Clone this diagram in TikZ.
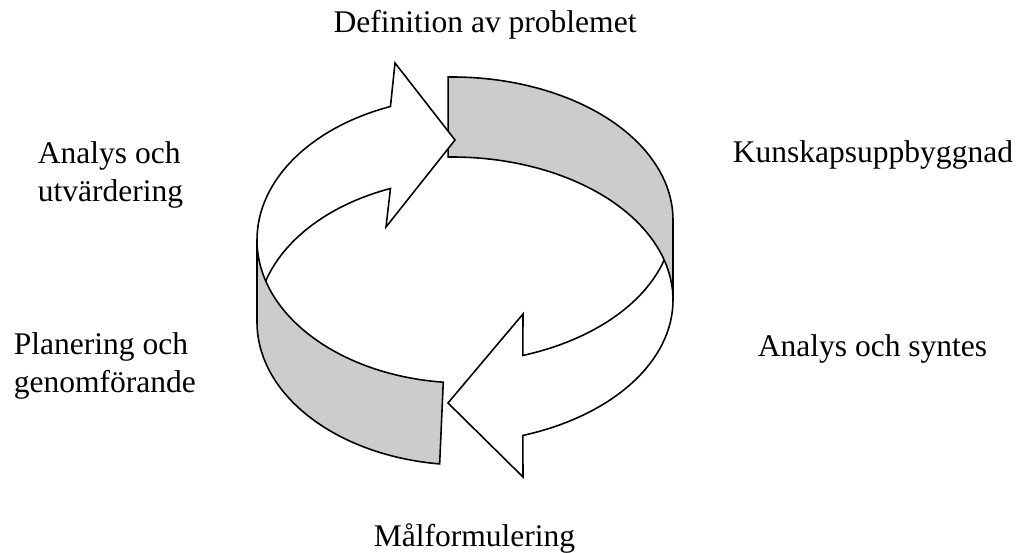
\documentclass[tikz,border=0pt]{standalone}
\usepackage{fontspec}
\setmainfont{Liberation Serif}
\usetikzlibrary{calc}
\definecolor{bandgrey}{RGB}{204,204,204}
\tikzset{
  every picture/.style={
    line width=0.7pt, line join=miter
  },
  band/.style={
    draw, fill=bandgrey
  },
  turn/.style={
    draw, fill=white
  },
  stage/.style={
    inner sep=0pt, align=left,
    font=\fontsize{14pt}{17.3pt}\selectfont
  }
}

\begin{document}
\begin{tikzpicture}[x=0.444pt, y=0.444pt]
      \useasboundingbox (0,0) rectangle (1017,-553);
      \coordinate (ca) at (465,-240);
      \coordinate (cb) at (465,-322);
      \coordinate (cc) at (452,-220);
      \coordinate (cd) at (452,-300);
      % front arrow, then the back band, the back arrow and the front band
      \draw[turn] ($(cc)+(0:221 and 143)$) -- ($(cd)+(0:221 and 143)$)
        arc[start angle=0, end angle=-71.3, x radius=221, y radius=143]
        -- (523,-477) -- (448,-403) -- (523,-314) -- ($(cc)+(-71.3:221 and 143)$)
        arc[start angle=-71.3, end angle=0, x radius=221, y radius=143] -- cycle;
      \draw[band] ($(cc)+(91:221 and 143)$)
        arc[start angle=91, end angle=0, x radius=221, y radius=143]
        -- ($(cd)+(0:221 and 143)$)
        arc[start angle=0, end angle=91, x radius=221, y radius=143] -- cycle;
      \draw[turn] ($(ca)+(180:208 and 143)$)
        arc[start angle=180, end angle=111, x radius=208, y radius=143]
        -- (395,-63) -- (455,-140) -- (386,-227) -- ($(cb)+(111:208 and 143)$)
        arc[start angle=111, end angle=180, x radius=208, y radius=143] -- cycle;
      \draw[band] ($(ca)+(180:208 and 143)$)
        arc[start angle=180, end angle=264, x radius=208, y radius=143]
        -- ($(cb)+(263:208 and 143)$)
        arc[start angle=263, end angle=180, x radius=208, y radius=143] -- cycle;
      \node[stage, anchor=base] (problem) at (485,-33) {Definition av problemet};
      \node[stage, anchor=base west] (kunskap) at (732,-163) {Kunskapsuppbyggnad};
      \node[stage, anchor=base west] (syntes) at (757,-357) {Analys och syntes};
      \node[stage, anchor=base west] (mal) at (373,-547) {Målformulering};
      \node[stage, anchor=base west] (planering) at (13,-393) {Planering och\\genomförande};
      \node[stage, anchor=base west] (utvardering) at (37,-202) {Analys och\\utvärdering};
\end{tikzpicture}
\end{document}
